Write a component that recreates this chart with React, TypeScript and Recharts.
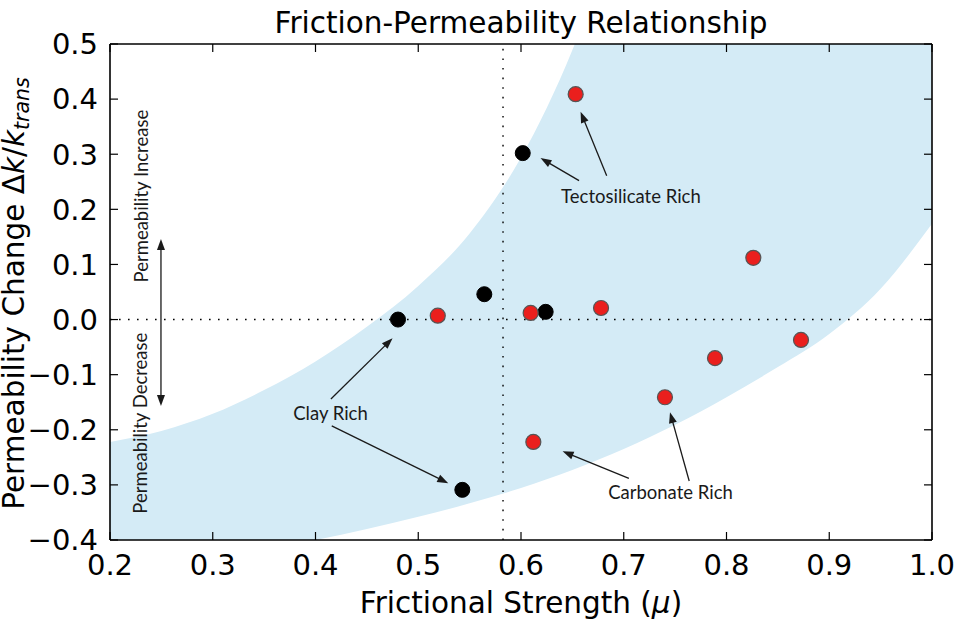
import React from 'react';
import { ComposedChart, Area, Scatter, XAxis, YAxis, ReferenceLine, ReferenceDot } from 'recharts';

const xTicks = [0.2, 0.3, 0.4, 0.5, 0.6, 0.7, 0.8, 0.9, 1.0];
const yTicks = [-0.4, -0.3, -0.2, -0.1, 0.0, 0.1, 0.2, 0.3, 0.4, 0.5];

// shaded envelope (friction vs permeability change)
const bandX = [0.2, 0.25, 0.3, 0.35, 0.4, 0.45, 0.5, 0.55, 0.6, 0.65, 0.7, 0.75, 0.8, 0.85, 0.9, 0.95, 1.0];
const bandLower = [-0.465, -0.45, -0.435, -0.418, -0.4, -0.38, -0.358, -0.3335, -0.3055, -0.273, -0.235, -0.191, -0.141, -0.086, -0.026, 0.056, 0.174];
const bandUpper = [-0.222, -0.202, -0.171, -0.128, -0.076, -0.013, 0.061, 0.156, 0.294, 0.489, 0.75, 1.05, 1.4, 1.8, 2.25, 2.75, 3.3];

// black points (clay / tectosilicate rich samples)
const blackX = [0.4803, 0.5643, 0.6017, 0.624, 0.5429];
const blackY = [0.0, 0.046, 0.302, 0.014, -0.309];

// red points
const redX = [0.519, 0.6532, 0.6094, 0.6779, 0.8261, 0.7888, 0.8725, 0.7401, 0.612];
const redY = [0.007, 0.409, 0.012, 0.021, 0.112, -0.07, -0.037, -0.141, -0.222];

const frictionThreshold = 0.5825;

const bandData = bandX.map((x, i) => ({ x, band: [bandLower[i], bandUpper[i]] }));
const blackData = blackX.map((x, i) => ({ x, y: blackY[i] }));
const redData = redX.map((x, i) => ({ x, y: redY[i] }));

// annotation texts (data coords)
const noteTexts = [
  { x: 0.707, y: 0.224, text: 'Tectosilicate Rich', rot: 0 },
  { x: 0.4146, y: -0.17, text: 'Clay Rich', rot: 0 },
  { x: 0.7455, y: -0.313, text: 'Carbonate Rich', rot: 0 },
  { x: 0.23, y: 0.224, text: 'Permeability Increase', rot: -90 },
  { x: 0.229, y: -0.188, text: 'Permeability Decrease', rot: -90 },
];

// annotation arrows (data coords), head at end
const noteArrows = [
  { x1: 0.2496, y1: 0.146, x2: 0.2496, y2: -0.157, both: true },
  { x1: 0.6565, y1: 0.252, x2: 0.619, y2: 0.293, both: false },
  { x1: 0.6834, y1: 0.261, x2: 0.658, y2: 0.377, both: false },
  { x1: 0.415, y1: -0.144, x2: 0.475, y2: -0.034, both: false },
  { x1: 0.4158, y1: -0.193, x2: 0.5292, y2: -0.297, both: false },
  { x1: 0.705, y1: -0.288, x2: 0.6405, y2: -0.239, both: false },
  { x1: 0.7637, y1: -0.293, x2: 0.745, y2: -0.168, both: false },
];

const fmt = (v: number) => (v < 0 ? '\u2212' + Math.abs(v).toFixed(1) : v.toFixed(1));
const blank = () => '';

const head = (xa: number, ya: number, xb: number, yb: number) => {
  const dx = xb - xa;
  const dy = yb - ya;
  const len = Math.sqrt(dx * dx + dy * dy) || 1;
  const ux = dx / len;
  const uy = dy / len;
  const L = 11;
  const W = 4;
  const bx = xb - ux * L;
  const by = yb - uy * L;
  return `${xb},${yb} ${bx - uy * W},${by + ux * W} ${bx + uy * W},${by - ux * W}`;
};

const arrowShape = (both: boolean) => (p: any) => {
  const { x1, y1, x2, y2 } = p;
  const dx = x2 - x1;
  const dy = y2 - y1;
  const len = Math.sqrt(dx * dx + dy * dy) || 1;
  const sx = both ? x1 + (dx / len) * 8 : x1;
  const sy = both ? y1 + (dy / len) * 8 : y1;
  const ex = x2 - (dx / len) * 8;
  const ey = y2 - (dy / len) * 8;
  return (
    <g>
      <line x1={sx} y1={sy} x2={ex} y2={ey} stroke="#1a1a1a" strokeWidth={1.3} />
      <polygon points={head(x1, y1, x2, y2)} fill="#1a1a1a" />
      {both ? <polygon points={head(x2, y2, x1, y1)} fill="#1a1a1a" /> : null}
    </g>
  );
};

const textShape = (text: string, rot: number) => (p: any) => (
  <text
    x={p.cx}
    y={p.cy}
    textAnchor="middle"
    dominantBaseline="central"
    transform={rot ? `rotate(${rot} ${p.cx} ${p.cy})` : undefined}
    fontFamily="Lato, 'Open Sans', sans-serif"
    fontSize={18.5}
    fill="#1a1a1a"
  >
    {text}
  </text>
);

const blackDot = (p: any) => <circle cx={p.cx} cy={p.cy} r={7.5} fill="#000" stroke="#000" strokeWidth={1} />;
const redDot = (p: any) => <circle cx={p.cx} cy={p.cy} r={7.5} fill="#ea1f1d" stroke="#555" strokeWidth={1.2} />;

const tickStyle = { fontFamily: 'DejaVu Sans', fontSize: 29, fill: '#000' };
const hiddenTick = { fontSize: 1, fill: 'none' };
const axisLine = { stroke: '#000', strokeWidth: 1.6 };
const tickLine = { stroke: '#000', strokeWidth: 1.2 };

export default function App() {
  return (
    <div style={{ position: 'absolute', left: 0, top: 0, width: 960, height: 621, background: '#fff' }}>
      <ComposedChart width={960} height={621} data={bandData} margin={{ top: 43, right: 27, bottom: 41, left: 0 }}>
        <XAxis
          xAxisId="main"
          dataKey="x"
          type="number"
          domain={[0.2, 1.0]}
          ticks={xTicks}
          interval={0}
          allowDataOverflow
          height={40}
          tickSize={-8}
          tickMargin={22}
          tickFormatter={fmt}
          tick={tickStyle}
          axisLine={axisLine}
          tickLine={tickLine}
        />
        <XAxis
          xAxisId="top"
          orientation="top"
          dataKey="x"
          type="number"
          domain={[0.2, 1.0]}
          ticks={xTicks}
          interval={0}
          allowDataOverflow
          height={1}
          tickSize={-8}
          tickFormatter={blank}
          tick={hiddenTick}
          axisLine={axisLine}
          tickLine={tickLine}
        />
        <YAxis
          yAxisId="main"
          dataKey="y"
          type="number"
          domain={[-0.4, 0.5]}
          ticks={yTicks}
          interval={0}
          allowDataOverflow
          width={110}
          tickSize={-8}
          tickMargin={20}
          tickFormatter={fmt}
          tick={tickStyle}
          axisLine={axisLine}
          tickLine={tickLine}
        />
        <YAxis
          yAxisId="right"
          orientation="right"
          dataKey="y"
          type="number"
          domain={[-0.4, 0.5]}
          ticks={yTicks}
          interval={0}
          allowDataOverflow
          width={1}
          tickSize={-8}
          tickFormatter={blank}
          tick={hiddenTick}
          axisLine={axisLine}
          tickLine={tickLine}
        />
        <Area
          xAxisId="main"
          yAxisId="main"
          dataKey="band"
          type="monotone"
          fill="#d4ebf6"
          fillOpacity={1}
          stroke="none"
          isAnimationActive={false}
          activeDot={false}
          dot={false}
        />
        <ReferenceLine xAxisId="main" yAxisId="main" y={0} stroke="#000" strokeWidth={1.4} strokeDasharray="1.6 7.4" />
        <ReferenceLine xAxisId="main" yAxisId="main" x={frictionThreshold} stroke="#000" strokeWidth={1.4} strokeDasharray="1.6 8" />
        {noteArrows.map((a, i) => (
          <ReferenceLine
            key={'a' + i}
            xAxisId="main"
            yAxisId="main"
            segment={[{ x: a.x1, y: a.y1 }, { x: a.x2, y: a.y2 }]}
            ifOverflow="visible"
            shape={arrowShape(a.both)}
          />
        ))}
        {noteTexts.map((t, i) => (
          <ReferenceDot
            key={'t' + i}
            xAxisId="main"
            yAxisId="main"
            x={t.x}
            y={t.y}
            r={0}
            ifOverflow="visible"
            shape={textShape(t.text, t.rot)}
          />
        ))}
        <Scatter xAxisId="main" yAxisId="main" data={blackData} shape={blackDot} isAnimationActive={false} />
        <Scatter xAxisId="main" yAxisId="main" data={redData} shape={redDot} isAnimationActive={false} />
      </ComposedChart>
      <svg width={960} height={621} style={{ position: 'absolute', left: 0, top: 0, pointerEvents: 'none' }}>
        <text x={521} y={33} textAnchor="middle" fontFamily="DejaVu Sans" fontSize={29.5} fill="#000">
          Friction-Permeability Relationship
        </text>
        <text x={521} y={613} textAnchor="middle" fontFamily="DejaVu Sans" fontSize={29.5} fill="#000">
          Frictional Strength (<tspan fontStyle="italic">μ</tspan>)
        </text>
        <text
          x={24}
          y={293.5}
          textAnchor="middle"
          transform="rotate(-90 24 293.5)"
          fontFamily="DejaVu Sans"
          fontSize={29.5}
          fill="#000"
        >
          Permeability Change Δ<tspan fontStyle="italic">k</tspan>/<tspan fontStyle="italic">k</tspan>
          <tspan fontStyle="italic" fontSize={20.5} dy={5}>trans</tspan>
        </text>
      </svg>
    </div>
  );
}
